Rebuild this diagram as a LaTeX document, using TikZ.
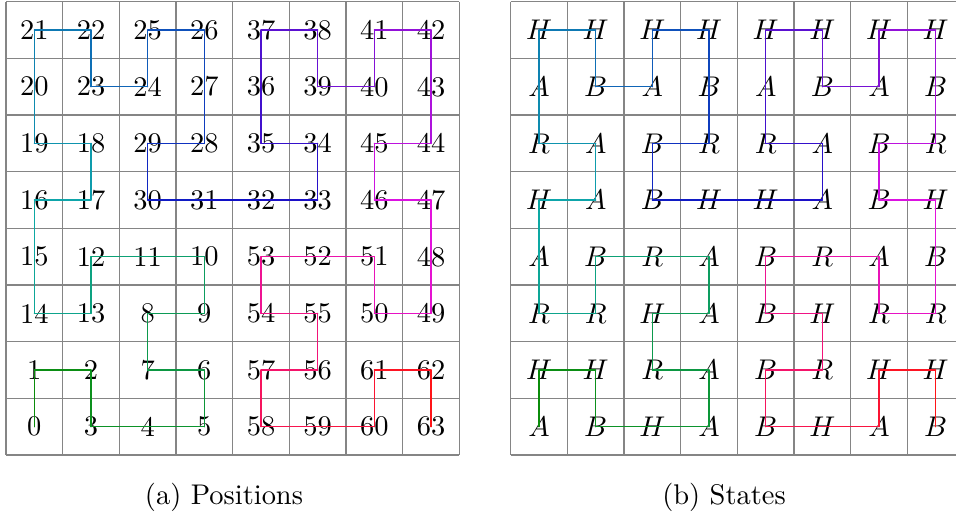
\documentclass[tikz,border=0pt]{standalone}
\begin{document}
\begin{tikzpicture}[x=0.35146pt,y=-0.35146pt,
  gridline/.style={line width=0.45pt,draw=black!48},
  cell/.style={inner sep=0pt,font=\normalsize},
  pathline/.style={line width=0.45pt,line cap=round},
  capt/.style={inner sep=0pt,font=\normalsize}]
\useasboundingbox (0,0) rectangle (956,520);
\clip (0,0) rectangle (956,520);
\def\cw{56.67}
% grids
\foreach \gx in {6,510.7}{
  \foreach \i in {0,...,8}{
    \draw[gridline] ({\gx+\i*\cw},1.7) -- ({\gx+\i*\cw},{1.7+8*\cw});
    \draw[gridline] (\gx,{1.7+\i*\cw}) -- ({\gx+8*\cw},{1.7+\i*\cw});
  }
}
% cells
\foreach \c/\r/\s [count=\k from 0] in {
 0/7/A,0/6/H,1/6/H,1/7/B,2/7/H,3/7/A,3/6/A,2/6/R,2/5/H,3/5/A,
 3/4/A,2/4/R,1/4/B,1/5/R,0/5/R,0/4/A,0/3/H,1/3/A,1/2/A,0/2/R,
 0/1/A,0/0/H,1/0/H,1/1/B,2/1/A,2/0/H,3/0/H,3/1/B,3/2/R,2/2/B,
 2/3/B,3/3/H,4/3/H,5/3/A,5/2/A,4/2/R,4/1/A,4/0/H,5/0/H,5/1/B,
 6/1/A,6/0/H,7/0/H,7/1/B,7/2/R,6/2/B,6/3/B,7/3/H,7/4/B,7/5/R,
 6/5/R,6/4/A,5/4/R,4/4/B,4/5/B,5/5/H,5/6/R,4/6/B,4/7/B,5/7/H,
 6/7/A,6/6/H,7/6/H,7/7/B}{
  \node[cell] (p\k) at ({6+(\c+0.5)*\cw},{1.7+(\r+0.5)*\cw}) {\k};
  \node[cell] (s\k) at ({510.7+(\c+0.5)*\cw},{1.7+(\r+0.5)*\cw}) {$\s$};
}
% path
\foreach \i in {0,...,62}{
  \pgfmathtruncatemacro\j{\i+1}
  \pgfmathsetmacro\hh{min(359,120+240*\i/62)}
  \pgfmathsetmacro\bb{0.55+0.45*\i/62}
  \convertcolorspec{Hsb}{\hh,0.92,\bb}{rgb}\myrgb
  \definecolor{pc}{rgb}{\myrgb}
  \draw[pathline,draw=pc] (p\i.center) -- (p\j.center);
  \draw[pathline,draw=pc] (s\i.center) -- (s\j.center);
}
% captions
\node[capt] (capA) at (224,497) {(a) Positions};
\node[capt] (capB) at (724,497) {(b) States};
\end{tikzpicture}
\end{document}
